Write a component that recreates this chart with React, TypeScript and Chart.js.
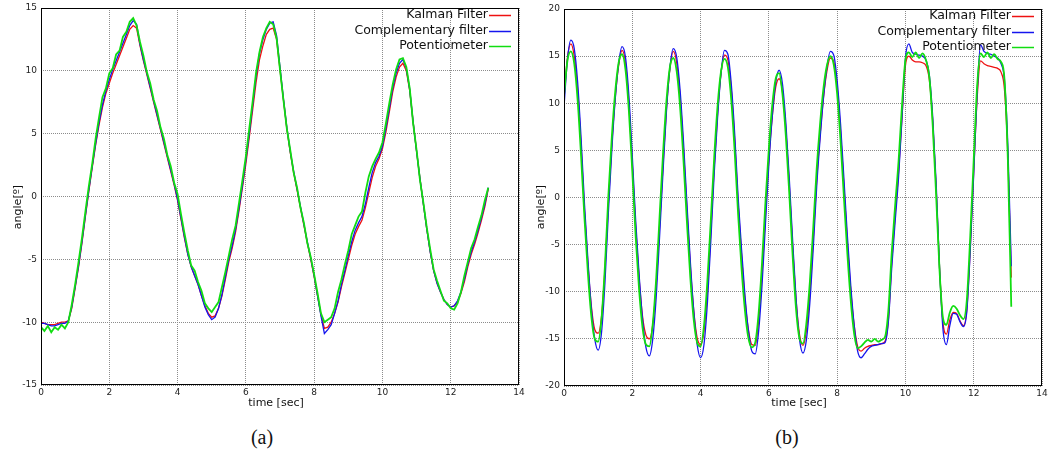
import React, { useEffect, useRef } from "react";
import { Chart, registerables } from "chart.js";

Chart.register(...registerables);

// Sample times [sec]
const TIME = [
  0, 0.1, 0.2, 0.3, 0.4, 0.5, 0.6, 0.7, 0.8, 0.9,
  1, 1.1, 1.2, 1.3, 1.4, 1.5, 1.6, 1.7, 1.8, 1.9,
  2, 2.1, 2.2, 2.3, 2.4, 2.5, 2.6, 2.7, 2.8, 2.9,
  3, 3.1, 3.2, 3.3, 3.4, 3.5, 3.6, 3.7, 3.8, 3.9,
  4, 4.1, 4.2, 4.3, 4.4, 4.5, 4.6, 4.7, 4.8, 4.9,
  5, 5.1, 5.2, 5.3, 5.4, 5.5, 5.6, 5.7, 5.8, 5.9,
  6, 6.1, 6.2, 6.3, 6.4, 6.5, 6.6, 6.7, 6.8, 6.9,
  7, 7.1, 7.2, 7.3, 7.4, 7.5, 7.6, 7.7, 7.8, 7.9,
  8, 8.1, 8.2, 8.3, 8.4, 8.5, 8.6, 8.7, 8.8, 8.9,
  9, 9.1, 9.2, 9.3, 9.4, 9.5, 9.6, 9.7, 9.8, 9.9,
  10, 10.1, 10.2, 10.3, 10.4, 10.5, 10.6, 10.7, 10.8, 10.9,
  11, 11.1, 11.2, 11.3, 11.4, 11.5, 11.6, 11.7, 11.8, 11.9,
  12, 12.1, 12.2, 12.3, 12.4, 12.5, 12.6, 12.7, 12.8, 12.9,
  13, 13.1,
];

const SERIES_NAMES = ["Kalman Filter", "Complementary filter", "Potentiometer"];
const SERIES_COLORS = ["#ee1111", "#1515ee", "#11dd11"];

const X_TICKS = [0, 2, 4, 6, 8, 10, 12, 14];
const Y_TICKS_A = [-15, -10, -5, 0, 5, 10, 15];
const Y_TICKS_B = [-20, -15, -10, -5, 0, 5, 10, 15, 20];

// ---- Figure (a) ----
const KALMAN_A = [
  -10.0, -10.1, -10.2, -10.2, -10.2, -10.1, -10.0, -10.0, -9.9, -8.9,
  -7.3, -5.6, -3.7, -1.6, 0.4, 2.3, 4.1, 5.7, 7.1, 8.2,
  9.0, 9.8, 10.5, 11.2, 11.9, 12.6, 13.3, 13.6, 13.4, 12.0,
  10.8, 9.7, 8.6, 7.5, 6.4, 5.3, 4.2, 3.1, 2.0, 0.9,
  -0.3, -1.8, -3.3, -4.6, -5.6, -6.3, -7.0, -7.9, -8.7, -9.3,
  -9.6, -9.5, -8.9, -7.9, -6.6, -5.2, -4.1, -2.8, -1.1, 0.7,
  2.6, 4.7, 6.9, 9.1, 10.9, 12.0, 12.9, 13.3, 13.4, 12.5,
  10.1, 7.7, 5.4, 3.5, 1.9, 0.5, -0.9, -2.3, -3.7, -5.0,
  -6.4, -7.9, -9.4, -10.5, -10.4, -10.0, -9.3, -8.4, -7.2, -6.1,
  -5.0, -3.9, -3.0, -2.4, -1.9, -0.9, 0.3, 1.5, 2.4, 3.0,
  3.8, 5.1, 6.7, 8.3, 9.5, 10.3, 10.6, 10.0, 8.4, 5.9,
  3.6, 1.4, -0.6, -2.6, -4.4, -5.9, -6.9, -7.6, -8.2, -8.6,
  -8.8, -8.7, -8.4, -7.7, -6.8, -5.6, -4.6, -3.8, -2.9, -1.9,
  -0.8, 0.6,
];
const COMPLEMENTARY_A = [
  -10.1, -10.1, -10.2, -10.3, -10.3, -10.2, -10.1, -10.1, -9.9, -8.8,
  -7.2, -5.5, -3.6, -1.5, 0.5, 2.4, 4.2, 5.9, 7.3, 8.4,
  9.3, 10.1, 10.8, 11.5, 12.2, 12.9, 13.6, 14.0, 13.7, 12.1,
  10.9, 9.8, 8.7, 7.6, 6.5, 5.4, 4.3, 3.2, 2.1, 1.0,
  -0.2, -1.7, -3.2, -4.6, -5.6, -6.3, -7.0, -7.9, -8.8, -9.4,
  -9.8, -9.6, -8.9, -7.8, -6.4, -5.0, -3.9, -2.6, -0.9, 0.9,
  2.9, 5.0, 7.3, 9.6, 11.4, 12.5, 13.3, 13.8, 13.9, 12.8,
  10.3, 7.8, 5.5, 3.6, 2.0, 0.6, -0.8, -2.2, -3.6, -4.9,
  -6.3, -7.9, -9.5, -10.9, -10.6, -10.2, -9.3, -8.3, -7.0, -5.9,
  -4.7, -3.6, -2.7, -2.1, -1.6, -0.6, 0.7, 1.9, 2.7, 3.2,
  4.0, 5.4, 7.0, 8.6, 9.8, 10.6, 10.9, 10.2, 8.5, 5.9,
  3.6, 1.4, -0.6, -2.6, -4.4, -5.9, -6.9, -7.6, -8.2, -8.6,
  -8.8, -8.7, -8.3, -7.6, -6.6, -5.4, -4.4, -3.6, -2.7, -1.7,
  -0.6, 0.7,
];
const POTENTIOMETER_A = [
  -10.4, -10.7, -10.3, -10.8, -10.4, -10.6, -10.2, -10.5, -10.0, -8.6,
  -7.0, -5.2, -3.3, -1.2, 0.8, 2.6, 4.6, 6.3, 7.9, 8.6,
  9.8, 10.2, 11.3, 11.6, 12.7, 13.1, 13.9, 14.2, 13.6, 12.3,
  11.2, 9.9, 9.0, 7.7, 6.8, 5.5, 4.6, 3.3, 2.4, 1.1,
  0.2, -1.4, -2.9, -4.3, -5.5, -5.9, -6.8, -7.5, -8.5, -8.9,
  -9.2, -8.8, -8.4, -7.2, -6.0, -4.7, -3.4, -2.3, -0.5, 1.3,
  3.2, 5.4, 7.6, 9.9, 11.5, 12.7, 13.4, 13.9, 13.7, 12.6,
  10.1, 7.7, 5.4, 3.7, 1.9, 0.7, -0.9, -2.1, -3.7, -4.8,
  -6.2, -7.7, -9.3, -10.0, -9.8, -9.6, -8.9, -7.6, -6.6, -5.4,
  -4.3, -3.0, -2.3, -1.6, -1.2, 0.3, 1.6, 2.4, 3.0, 3.5,
  4.3, 5.8, 7.4, 8.9, 10.1, 10.9, 11.0, 10.3, 8.6, 5.8,
  3.7, 1.3, -0.5, -2.5, -4.2, -5.8, -6.7, -7.5, -8.3, -8.5,
  -8.9, -9.0, -8.5, -7.6, -6.3, -5.2, -4.1, -3.4, -2.4, -1.5,
  -0.3, 0.7,
];

// ---- Figure (b) ----
const KALMAN_B = [
  10.5, 14.8, 16.3, 15.0, 11.4, 5.4, -1.4, -7.0, -11.5, -14.0,
  -14.4, -12.6, -7.6, -0.6, 5.6, 10.6, 14.0, 15.6, 14.3, 10.0,
  3.6, -3.2, -8.6, -12.6, -14.6, -15.0, -13.5, -9.3, -3.0, 3.4,
  9.4, 13.6, 15.5, 14.3, 10.7, 5.1, -1.3, -7.3, -12.0, -14.9,
  -15.6, -14.2, -10.0, -3.6, 3.3, 9.0, 13.2, 15.1, 14.6, 11.4,
  6.0, -0.7, -6.1, -10.8, -14.0, -15.6, -15.7, -13.1, -8.2, -1.8,
  4.1, 8.6, 11.7, 12.6, 11.2, 7.1, 1.2, -5.4, -11.0, -14.6,
  -15.7, -14.1, -10.2, -4.4, 1.8, 6.6, 10.6, 13.4, 14.8, 14.4,
  11.7, 7.0, 1.1, -4.8, -9.9, -13.6, -15.8, -16.3, -16.0, -15.8,
  -15.7, -15.6, -15.6, -15.5, -15.3, -13.0, -6.8, -1.8, 2.8, 8.6,
  14.0, 15.0, 14.6, 14.4, 14.4, 14.3, 14.0, 12.5, 8.0, 1.0,
  -7.5, -13.3, -14.5, -13.0, -12.2, -12.3, -13.1, -13.6, -11.8, -5.2,
  2.8, 10.5, 14.5, 14.2, 14.0, 13.9, 13.8, 13.7, 13.3, 11.5,
  4.5, -8.5,
];
const COMPLEMENTARY_B = [
  9.6, 14.6, 16.7, 15.8, 12.2, 6.3, -0.7, -6.6, -11.7, -15.0,
  -16.2, -14.3, -9.0, -1.6, 5.0, 10.4, 14.2, 16.0, 14.9, 10.8,
  4.4, -2.5, -8.2, -12.9, -15.9, -16.8, -15.0, -10.6, -4.1, 2.7,
  9.1, 13.7, 15.8, 14.9, 11.4, 5.9, -0.6, -6.8, -12.0, -15.6,
  -17.0, -15.6, -11.2, -4.6, 2.6, 8.6, 13.2, 15.6, 15.2, 12.0,
  6.7, 0.0, -5.5, -10.4, -14.1, -16.3, -16.6, -14.2, -9.3, -2.8,
  3.5, 8.6, 12.2, 13.5, 12.0, 7.8, 1.9, -4.8, -10.9, -15.1,
  -16.5, -15.1, -11.2, -5.4, 1.1, 6.2, 10.6, 13.8, 15.5, 15.1,
  12.4, 7.8, 1.9, -4.1, -9.4, -13.6, -16.3, -17.0, -16.6, -16.1,
  -15.8, -15.7, -15.6, -15.5, -15.4, -13.2, -7.4, -2.5, 2.2, 8.5,
  14.8, 16.3, 15.4, 15.2, 15.1, 15.0, 14.6, 13.0, 8.5, 1.5,
  -7.5, -14.0, -15.6, -13.6, -12.3, -12.4, -13.2, -13.7, -12.0, -5.5,
  2.5, 11.0, 16.2, 15.5, 15.3, 15.2, 15.0, 14.8, 14.2, 12.5,
  5.5, -7.3,
];
const POTENTIOMETER_B = [
  10.8, 14.5, 15.5, 14.2, 10.3, 4.4, -2.2, -8.0, -12.6, -15.0,
  -15.3, -12.8, -7.2, 0.2, 6.4, 11.2, 14.3, 15.2, 13.6, 9.2,
  2.8, -4.2, -9.8, -13.8, -15.6, -15.8, -13.4, -8.6, -2.0, 4.6,
  10.2, 13.8, 14.8, 13.4, 9.6, 3.9, -2.6, -8.5, -13.0, -15.4,
  -15.8, -13.6, -8.8, -2.4, 4.3, 9.8, 13.4, 14.7, 13.8, 10.3,
  4.8, -1.8, -7.5, -12.0, -14.9, -15.9, -15.4, -12.3, -6.9, -0.5,
  5.2, 9.8, 12.6, 13.2, 10.9, 6.4, 0.3, -6.4, -12.0, -15.0,
  -15.5, -13.3, -9.0, -3.2, 3.0, 7.8, 11.6, 14.0, 15.0, 14.1,
  11.0, 6.0, -0.1, -6.0, -11.0, -14.5, -16.0, -15.8, -15.4, -15.1,
  -15.3, -15.0, -15.3, -15.1, -14.8, -12.0, -5.8, -0.8, 3.9, 9.8,
  14.6, 15.4, 14.9, 15.4, 14.8, 15.3, 14.6, 12.8, 7.6, 0.2,
  -7.8, -12.8, -13.5, -12.2, -11.5, -11.8, -12.5, -12.9, -10.8, -4.0,
  4.0, 11.8, 15.3, 14.9, 15.4, 14.8, 15.2, 14.7, 14.4, 12.6,
  4.0, -11.6,
];

const FONT = '"DejaVu Sans", Verdana, sans-serif';
const CANVAS_H = 420;

function overlayPlugin() {
  return {
    id: "overlay",
    afterDraw(chart: any) {
      const { ctx, chartArea } = chart;
      const { left, top, right, bottom } = chartArea;
      ctx.save();
      // frame
      ctx.strokeStyle = "#000";
      ctx.lineWidth = 1;
      ctx.strokeRect(Math.round(left) + 0.5, Math.round(top) + 0.5,
        Math.round(right) - Math.round(left) - 1, Math.round(bottom) - Math.round(top) - 1);
      // legend
      ctx.font = `12.5px ${FONT}`;
      ctx.textAlign = "right";
      ctx.textBaseline = "middle";
      for (let i = 0; i < SERIES_NAMES.length; i++) {
        const y = top + 7 + i * 15.5;
        ctx.fillStyle = "#111";
        ctx.fillText(SERIES_NAMES[i], right - 31, y);
        ctx.strokeStyle = SERIES_COLORS[i];
        ctx.lineWidth = 1.5;
        ctx.beginPath();
        ctx.moveTo(right - 30, Math.round(y) + 0.5);
        ctx.lineTo(right - 8, Math.round(y) + 0.5);
        ctx.stroke();
      }
      // axis titles
      ctx.fillStyle = "#111";
      ctx.font = `11px ${FONT}`;
      ctx.textAlign = "center";
      ctx.textBaseline = "middle";
      ctx.fillText("time [sec]", (left + right) / 2 - 4, 403);
      ctx.translate(18, 207);
      ctx.rotate(-Math.PI / 2);
      ctx.fillText("angle[º]", 0, 0);
      ctx.restore();
    },
  };
}

function makeConfig(
  kalman: number[], comp: number[], pot: number[],
  yTicks: number[], padTop: number, padRight: number, smooth: boolean
): any {
  const toPts = (arr: number[]) => TIME.map((t, i) => ({ x: t, y: arr[i] }));
  const common = {
    pointRadius: 0,
    fill: false,
    tension: 0,
    cubicInterpolationMode: smooth ? "monotone" : "default",
  };
  const yMin = yTicks[0];
  const yMax = yTicks[yTicks.length - 1];
  return {
    type: "line",
    data: {
      datasets: [
        { ...common, label: SERIES_NAMES[0], data: toPts(kalman), borderColor: SERIES_COLORS[0], borderWidth: 1.3, order: 2 },
        { ...common, label: SERIES_NAMES[1], data: toPts(comp), borderColor: SERIES_COLORS[1], borderWidth: 1.3, order: 1 },
        { ...common, label: SERIES_NAMES[2], data: toPts(pot), borderColor: SERIES_COLORS[2], borderWidth: 1.8, order: 0 },
      ],
    },
    options: {
      responsive: false,
      animation: false,
      devicePixelRatio: 1,
      layout: { padding: { left: 0, top: padTop, right: padRight, bottom: 0 } },
      plugins: { legend: { display: false }, tooltip: { enabled: false } },
      scales: {
        x: {
          type: "linear",
          min: 0,
          max: 14,
          afterBuildTicks: (scale: any) => { scale.ticks = X_TICKS.map((v) => ({ value: v })); },
          afterFit: (scale: any) => { scale.height = CANVAS_H - 385 - (padTop - 8); scale.paddingLeft = 0; scale.paddingRight = 0; },
          ticks: { font: { family: FONT, size: 9 }, color: "#222", padding: 2, maxRotation: 0, autoSkip: false },
          grid: { color: "#8c8c8c", lineWidth: 1, drawTicks: false },
          border: { display: false, dash: [1, 1] },
        },
        y: {
          type: "linear",
          min: yMin,
          max: yMax,
          afterBuildTicks: (scale: any) => { scale.ticks = yTicks.map((v) => ({ value: v })); },
          afterFit: (scale: any) => { scale.width = 41; scale.paddingTop = 0; scale.paddingBottom = 0; },
          ticks: { font: { family: FONT, size: 9 }, color: "#222", padding: 4, autoSkip: false },
          grid: { color: "#8c8c8c", lineWidth: 1, drawTicks: false },
          border: { display: false, dash: [1, 1] },
        },
      },
    },
    plugins: [overlayPlugin()],
  };
}

function Plot(props: { left: number; width: number; build: () => any }) {
  const ref = useRef<HTMLCanvasElement | null>(null);
  useEffect(() => {
    if (!ref.current) return;
    const chart = new Chart(ref.current, props.build());
    return () => chart.destroy();
  }, []);
  return (
    <canvas
      ref={ref}
      width={props.width}
      height={CANVAS_H}
      style={{ position: "absolute", left: props.left, top: 0, width: props.width, height: CANVAS_H }}
    />
  );
}

const captionStyle = (center: number): React.CSSProperties => ({
  position: "absolute",
  left: center - 40,
  width: 80,
  top: 424,
  textAlign: "center",
  fontFamily: '"Liberation Serif", "Times New Roman", serif',
  fontSize: 20,
  lineHeight: "26px",
  color: "#111",
});

export default function App() {
  return (
    <div style={{ position: "absolute", left: 0, top: 0, width: 1049, height: 452, background: "#fff", overflow: "hidden" }}>
      <Plot left={0} width={530} build={() => makeConfig(KALMAN_A, COMPLEMENTARY_A, POTENTIOMETER_A, Y_TICKS_A, 8, 11, false)} />
      <Plot left={523} width={526} build={() => makeConfig(KALMAN_B, COMPLEMENTARY_B, POTENTIOMETER_B, Y_TICKS_B, 9, 7, true)} />
      <div style={captionStyle(262)}>(a)</div>
      <div style={captionStyle(787)}>(b)</div>
    </div>
  );
}
